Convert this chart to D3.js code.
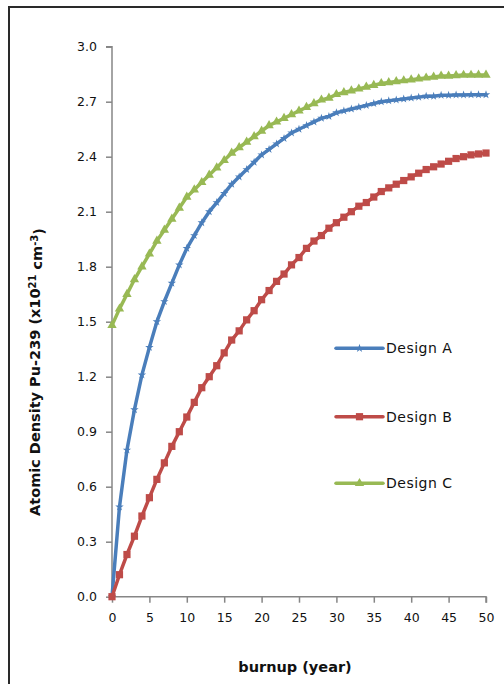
<!DOCTYPE html>
<html>
<head>
<meta charset="utf-8">
<script src="https://cdn.jsdelivr.net/npm/d3@7"></script>
<style>
  html, body { margin: 0; padding: 0; background: #fff; }
  svg { display: block; }
  text { font-family: "DejaVu Sans", sans-serif; fill: #111; }
</style>
</head>
<body>
<svg id="chart" width="504" height="684"></svg>
<script>
// ---- data ----
const years = d3.range(0, 51); // burnup, year (0..50)
const designA = [0, 0.49, 0.80, 1.02, 1.21, 1.36, 1.50, 1.61, 1.71, 1.81,
  1.90, 1.97, 2.04, 2.10, 2.15, 2.20, 2.25, 2.29, 2.33, 2.37,
  2.41, 2.44, 2.47, 2.50, 2.53, 2.55, 2.57, 2.59, 2.61, 2.62,
  2.64, 2.65, 2.66, 2.67, 2.68, 2.69, 2.70, 2.705, 2.71, 2.715,
  2.72, 2.725, 2.73, 2.73, 2.735, 2.735, 2.737, 2.737, 2.738, 2.738, 2.738];
const designB = [0, 0.12, 0.23, 0.33, 0.44, 0.54, 0.64, 0.73, 0.82, 0.90,
  0.98, 1.06, 1.14, 1.20, 1.26, 1.33, 1.40, 1.45, 1.51, 1.56,
  1.62, 1.67, 1.72, 1.76, 1.81, 1.85, 1.90, 1.94, 1.97, 2.01,
  2.04, 2.07, 2.10, 2.13, 2.15, 2.18, 2.21, 2.23, 2.25, 2.27,
  2.29, 2.31, 2.33, 2.345, 2.36, 2.375, 2.39, 2.40, 2.41, 2.415, 2.42];
const designC = [1.48, 1.57, 1.65, 1.73, 1.80, 1.87, 1.94, 2.00, 2.06, 2.12,
  2.18, 2.22, 2.26, 2.30, 2.34, 2.38, 2.42, 2.45, 2.48, 2.51,
  2.54, 2.57, 2.59, 2.61, 2.63, 2.65, 2.67, 2.69, 2.71, 2.72,
  2.74, 2.75, 2.76, 2.77, 2.78, 2.79, 2.80, 2.805, 2.81, 2.815,
  2.82, 2.825, 2.83, 2.835, 2.84, 2.84, 2.843, 2.845, 2.845, 2.846, 2.846];
const seriesNames = ["Design A", "Design B", "Design C"];
const seriesColors = ["#4a7ebb", "#be4b48", "#98b954"];
const xTicks = [0, 5, 10, 15, 20, 25, 30, 35, 40, 45, 50];
const yTicks = [0.0, 0.3, 0.6, 0.9, 1.2, 1.5, 1.8, 2.1, 2.4, 2.7, 3.0];

// ---- layout ----
const svg = d3.select("#chart");
const x = d3.scaleLinear().domain([0, 50]).range([112, 486]);
const y = d3.scaleLinear().domain([0, 3.0]).range([596.7, 46.7]);

// outer frame
svg.append("rect").attr("x", 9).attr("y", 7).attr("width", 520).attr("height", 700)
  .attr("fill", "none").attr("stroke", "#2a2a2a").attr("stroke-width", 2);

// axes
const axisColor = "#868686";
const yAxis = svg.append("g").attr("transform", `translate(${x(0)},0)`)
  .call(d3.axisLeft(y).tickValues(yTicks).tickFormat(d3.format(".1f")).tickSize(6).tickPadding(9));
const xAxis = svg.append("g").attr("transform", `translate(0,${y(0)})`)
  .call(d3.axisBottom(x).tickValues(xTicks).tickFormat(d3.format("d")).tickSize(6).tickPadding(10));
[yAxis, xAxis].forEach(g => {
  g.select(".domain").attr("stroke", axisColor).attr("stroke-width", 1.5);
  g.selectAll(".tick line").attr("stroke", axisColor).attr("stroke-width", 1.5);
  g.selectAll(".tick text").style("font-family", "DejaVu Sans, sans-serif")
    .style("font-size", "12.5px").attr("fill", "#111");
});
yAxis.select(".domain").attr("d", `M-6,${y(3.0)}H0V${y(0)}`);
xAxis.select(".domain").attr("d", `M${x(0)},0H${x(50)}V6`);

// series
const allSeries = [designA, designB, designC];
const line = d3.line().x((d, i) => x(years[i])).y(d => y(d));
const markerSymbols = [d3.symbolStar, d3.symbolSquare, d3.symbolTriangle];
const markerSizes = [22, 52, 38];

allSeries.forEach((vals, si) => {
  svg.append("path").datum(vals).attr("d", line)
    .attr("fill", "none").attr("stroke", seriesColors[si])
    .attr("stroke-width", 3.5).attr("stroke-linejoin", "round");
  svg.append("g").selectAll("path").data(vals).join("path")
    .attr("transform", (d, i) => `translate(${x(years[i])},${y(d)})`)
    .attr("d", d3.symbol().type(markerSymbols[si]).size(markerSizes[si]))
    .attr("fill", seriesColors[si]);
});

// legend
const legendY = [348.3, 416.7, 483.3];
seriesNames.forEach((name, i) => {
  const g = svg.append("g");
  g.append("line").attr("x1", 336).attr("x2", 383).attr("y1", legendY[i]).attr("y2", legendY[i])
    .attr("stroke", seriesColors[i]).attr("stroke-width", 3.5).attr("stroke-linecap", "round");
  g.append("path").attr("transform", `translate(359.5,${legendY[i]})`)
    .attr("d", d3.symbol().type(markerSymbols[i]).size(markerSizes[i]))
    .attr("fill", seriesColors[i]);
  g.append("text").attr("x", 386).attr("y", legendY[i]).attr("dy", "0.36em")
    .style("font-size", "14px").style("letter-spacing", "0.5px").text(name);
});

// axis titles
svg.append("text").attr("x", 295).attr("y", 672).attr("text-anchor", "middle")
  .style("font-size", "14.5px").style("font-weight", "bold").text("burnup (year)");

const yt = svg.append("text").attr("transform", "translate(40,372) rotate(-90)")
  .attr("text-anchor", "middle").style("font-size", "14.5px").style("font-weight", "bold");
yt.append("tspan").text("Atomic Density  Pu-239 (x10");
yt.append("tspan").attr("dy", "-0.45em").style("font-size", "10px").text("21");
yt.append("tspan").attr("dy", "0.45em").text(" cm");
yt.append("tspan").attr("dy", "-0.45em").style("font-size", "10px").text("-3");
yt.append("tspan").attr("dy", "0.45em").text(")");
</script>
</body>
</html>
